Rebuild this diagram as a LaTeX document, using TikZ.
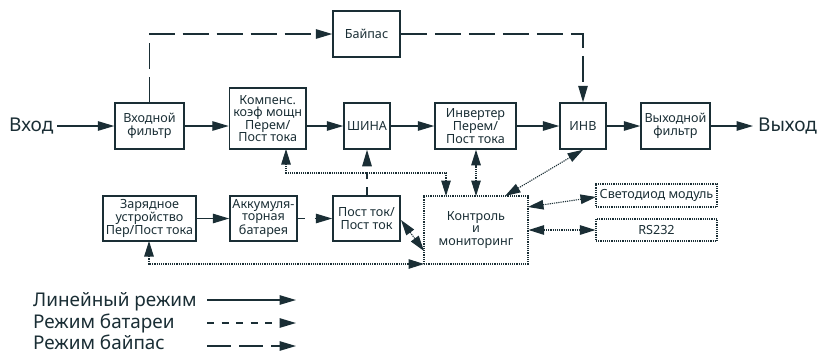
\documentclass[tikz,border=0pt]{standalone}
\usepackage{fontspec}
\setmainfont{Noto Sans}
\usetikzlibrary{arrows.meta}
\definecolor{ink}{HTML}{1A2E35}
\tikzset{
  x=1pt,y=-1pt,
  ln/.style={draw=ink,line width=1.3pt},
  tip/.style={-{Triangle[length=16.5pt,width=9.5pt,fill=ink]}},
  twotip/.style={{Triangle[length=15.5pt,width=9.5pt,fill=ink]}-{Triangle[length=15.5pt,width=9.5pt,fill=ink]}},
  wire/.style={ln,tip},
  bypassline/.style={dash pattern=on 26pt off 8pt},
  dotline/.style={line width=1.1pt,dash pattern=on 1.2pt off 1pt},
  box/.style={ln,line width=1.5pt,text=ink,align=center,inner sep=0pt,font=\fontsize{12.6}{12.6}\selectfont},
  dbox/.style={box,dotline},
  big/.style={text=ink,inner sep=0pt,anchor=base west,font=\fontsize{19}{20}\selectfont},
  legend/.style={text=ink,inner sep=0pt,anchor=base west,font=\fontsize{18.9}{18}\selectfont},
}
\newcommand{\boxat}[7][box]{\node[#1,minimum width=#4pt-#2pt,minimum height=#5pt-#3pt] (#6) at ({(#2+#4)/2},{(#3+#5)/2}) {#7};}
\begin{document}
\begin{tikzpicture}
\useasboundingbox (0,0) rectangle (818,354);
\boxat{115}{103}{184}{149}{infilt}{Входной\\фильтр}
\boxat{229.5}{88}{306}{149}{pfc}{Компенс.\\коэф мощн\\Перем/\\Пост тока}
\boxat{344}{103}{390}{149}{bus}{ШИНА}
\boxat{333}{11}{400}{57}{byp}{Байпас}
\boxat{435}{103}{516}{149}{inv}{Инвертер\\Перем/\\Пост тока}
\boxat{560}{103}{606}{149}{sw}{ИНВ}
\boxat{641}{103}{710}{149}{outfilt}{Выходной\\фильтр}
\boxat{103}{196}{196}{241}{chg}{Зарядное\\устройство\\Пер/Пост тока}
\boxat{230}{196}{297}{241}{bat}{Аккумуля-\\торная\\батарея}
\boxat{333}{196}{400}{241}{dcdc}{Пост ток/\\Пост ток}
\boxat[dbox]{424}{196}{528}{264}{ctl}{Контроль\\и\\мониторинг}
\boxat[dbox]{596}{184}{717}{207}{led}{Светодиод модуль}
\boxat[dbox]{596}{219}{717}{241}{rs}{RS232}
\node[big] (in) at (9,131.5) {Вход};
\node[big] (out) at (758,131.5) {Выход};
% main path
\coordinate (instart) at (57,126);
\coordinate (outend) at (753,126);
\draw[wire] (instart) -- (infilt.west);
\draw[wire] (infilt) -- (pfc.west |- infilt);
\draw[wire] (pfc.east |- infilt) -- (bus.west);
\draw[wire] (bus) -- (inv.west);
\draw[wire] (inv) -- (sw.west);
\draw[wire] (sw) -- (outfilt.west);
\draw[wire] (outfilt) -- (outend);
% bypass
\coordinate (bypa) at (149.5,103);
\coordinate (bypb) at (149.5,34);
\coordinate (bypc) at (583,34);
\draw[wire,bypassline] (bypa) -- (bypb) -- (byp.west);
\draw[wire,bypassline] (byp.east) -- (bypc) -- (sw.north);
% battery path
\draw[wire] (chg.east |- bat) -- (bat.west);
\draw[wire,dash pattern=on 7pt off 10pt] (bat.east) -- (dcdc.west);
\draw[wire,dash pattern=on 8pt off 8pt on 7pt off 20pt] (dcdc.north -| bus) -- (bus.south);
% control links
\coordinate (ctla) at (446,196);
\coordinate (ctlb) at (476,196);
\coordinate (ctlc) at (505,196);
\coordinate (pfcb) at (286,149);
\coordinate (dca) at (401,220);
\coordinate (ctld) at (424,251);
\coordinate (ctle) at (528,207);
\coordinate (lede) at (596,197);
\coordinate (ctlf) at (424,264);
\coordinate (chgb) at (149,241);
\draw[ln,twotip,dotline] (ctla) -- (446,173) -- (286,173) -- (pfcb);
\draw[ln,twotip,dotline] (ctlb) -- (inv.south -| ctlb);
\draw[ln,twotip,dotline] (ctlc) -- (sw.south);
\draw[ln,twotip,dotline] (ctle) -- (lede);
\draw[ln,twotip,dotline] (ctl.east |- rs) -- (rs.west);
\draw[ln,twotip,dotline] (dca) -- (ctld);
\draw[ln,twotip,dotline] (chgb) -- (149,264) -- (ctlf);
% legend
\node[legend] (la) at (33,306) {Линейный режим};
\node[legend] (lb) at (33,328) {Режим батареи};
\node[legend] (lc) at (33,349.5) {Режим байпас};
\coordinate (ea) at (207,300);
\coordinate (fa) at (296,300);
\coordinate (eb) at (207,323);
\coordinate (fb) at (296,323);
\coordinate (ec) at (207,346);
\coordinate (fc) at (296,346);
\draw[wire] (ea) -- (fa);
\draw[wire,dash pattern=on 7pt off 7.5pt] (eb) -- (fb);
\draw[wire,dash pattern=on 24pt off 8pt] (ec) -- (fc);
\end{tikzpicture}
\end{document}
